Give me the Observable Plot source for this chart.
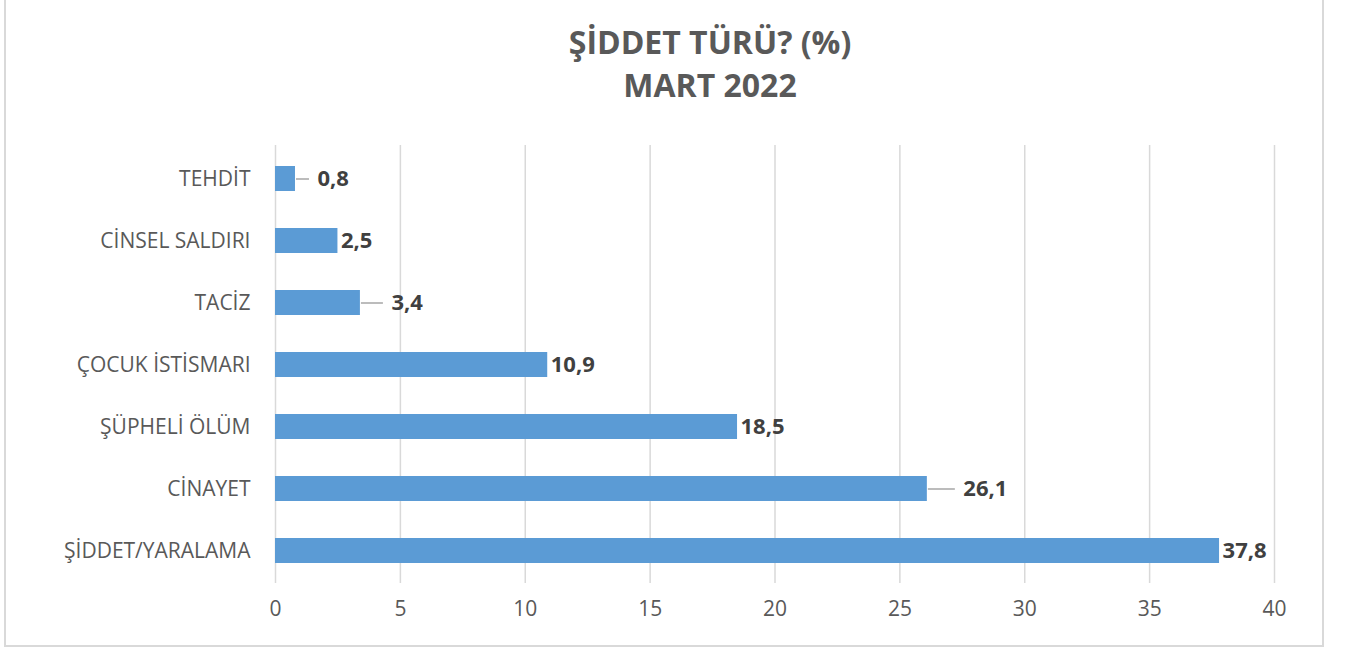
<!DOCTYPE html>
<html>
<head>
<meta charset="utf-8">
<script src="https://cdn.jsdelivr.net/npm/d3@7"></script>
<script src="https://cdn.jsdelivr.net/npm/@observablehq/plot@0.6"></script>
<style>
  html, body { margin: 0; padding: 0; background: #fff; }
  #wrap { position: relative; width: 1350px; height: 651px; overflow: hidden; font-family: "Open Sans", Lato, sans-serif; }
  #frame { position: absolute; left: 4px; top: -4px; width: 1316px; height: 647px; border: 2px solid #d9d9d9; box-sizing: content-box; }
  #title { position: absolute; left: 0; width: 1420px; top: 20px; text-align: center; color: #595959; font-weight: bold; font-size: 32px; line-height: 43px; }
  #chart { position: absolute; left: 0; top: 0; }
</style>
</head>
<body>
<div id="wrap">
  <div id="frame"></div>
  <div id="chart"></div>
  <div id="title">ŞİDDET TÜRÜ? (%)<br>MART 2022</div>
</div>
<script>
const categories = ["TEHDİT", "CİNSEL SALDIRI", "TACİZ", "ÇOCUK İSTİSMARI", "ŞÜPHELİ ÖLÜM", "CİNAYET", "ŞİDDET/YARALAMA"];
const values = [0.8, 2.5, 3.4, 10.9, 18.5, 26.1, 37.8];
const xTicks = [0, 5, 10, 15, 20, 25, 30, 35, 40];

const data = categories.map((c, i) => ({category: c, value: values[i]}));

// label offsets in px (layout only): some labels sit further out with a leader line
const labelDx = {"TEHDİT": 22, "CİNSEL SALDIRI": 3, "TACİZ": 31, "ÇOCUK İSTİSMARI": 3, "ŞÜPHELİ ÖLÜM": 3, "CİNAYET": 36, "ŞİDDET/YARALAMA": 3};
const withLeader = data.filter(d => labelDx[d.category] > 5);

const fmt = v => v.toFixed(1).replace(".", ",");

const font = "'Open Sans', Lato, sans-serif";

const chart = Plot.plot({
  width: 1350,
  height: 651,
  marginTop: 145,
  marginBottom: 68,
  marginLeft: 275,
  marginRight: 76,
  style: {fontFamily: font, background: "transparent"},
  x: {domain: [0, 40], ticks: xTicks},
  y: {domain: categories, paddingInner: 0.6, paddingOuter: 0.3},
  marks: [
    Plot.ruleX(xTicks, {stroke: "#d9d9d9", strokeWidth: 1.5}),
    Plot.barX(data, {y: "category", x: "value", fill: "#5b9bd5"}),
    ...withLeader.map(d => Plot.ruleY([d], {
      y: "category",
      x1: "value", x2: "value",
      stroke: "#a6a6a6", strokeWidth: 1.5,
      render: (index, scales, values, dims, context, next) => {
        const g = next(index, scales, values, dims, context);
        d3.select(g).selectAll("line").each(function() {
          const x = +this.getAttribute("x1");
          this.setAttribute("x1", x + 1);
          this.setAttribute("x2", x + labelDx[d.category] - 8);
        });
        return g;
      }
    })),
    ...categories.map(c => Plot.text(data.filter(d => d.category === c), {
      y: "category", x: "value", text: d => fmt(d.value),
      dx: labelDx[c], textAnchor: "start",
      fontSize: 22, fontWeight: "bold", fill: "#404040"
    })),
    Plot.axisY({tickSize: 0, tickPadding: 25, fontSize: 21, fill: "#595959", label: null}),
    Plot.axisX({ticks: xTicks, tickSize: 0, tickPadding: 18, fontSize: 21, fill: "#595959", label: null})
  ]
});

document.getElementById("chart").appendChild(chart);
</script>
</body>
</html>
